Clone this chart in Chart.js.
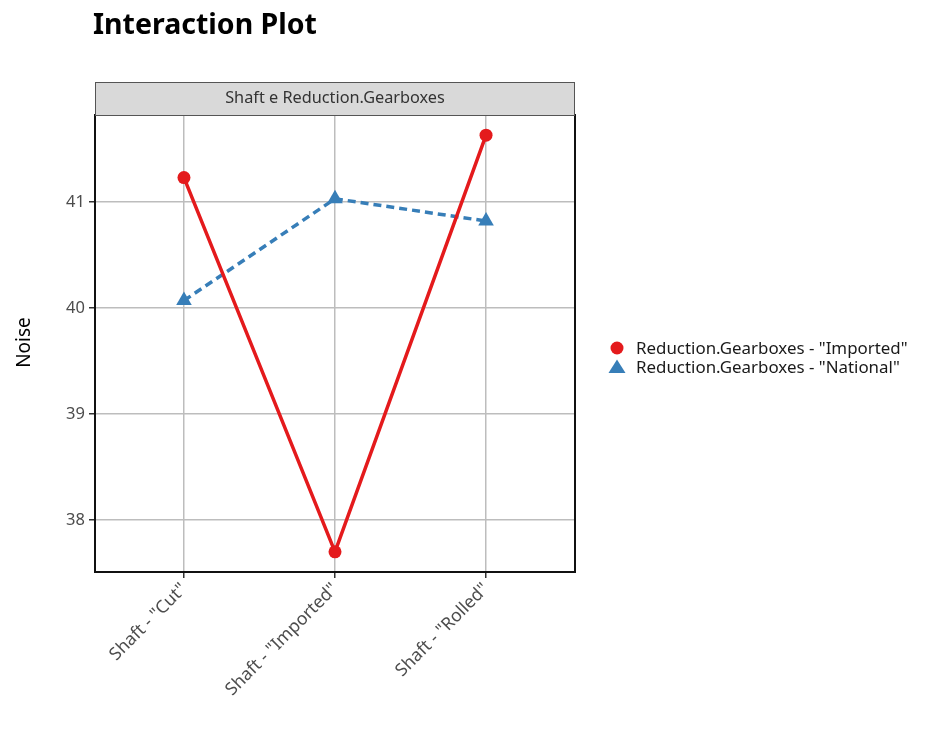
<!DOCTYPE html>
<html><head><meta charset="utf-8">
<script src="https://cdn.jsdelivr.net/npm/chart.js@4/dist/chart.umd.min.js"></script>
<style>html,body{margin:0;padding:0;background:#fff}#wrap{width:931px;height:730px;position:relative}</style>
</head><body><div id="wrap"><canvas id="c" width="931" height="730"></canvas></div>
<script>
const categories = ['Shaft - "Cut"', 'Shaft - "Imported"', 'Shaft - "Rolled"'];
const seriesNames = ['Reduction.Gearboxes - "Imported"', 'Reduction.Gearboxes - "National"'];
const importedValues = [41.23, 37.70, 41.63];
const nationalValues = [40.07, 41.03, 40.82];
const yTicks = [38, 39, 40, 41];
const chartTitle = 'Interaction Plot';
const stripLabel = 'Shaft e Reduction.Gearboxes';
const yTitle = 'Noise';

const FONT = '"Noto Sans", "Open Sans", sans-serif';
const RED = '#E41A1C', BLUE = '#377EB8';

const decor = {
  id: 'decor',
  afterDraw(chart) {
    const ctx = chart.ctx, a = chart.chartArea;
    ctx.save();
    // panel border
    ctx.strokeStyle = '#111'; ctx.lineWidth = 2;
    ctx.strokeRect(a.left, a.top, a.right - a.left, a.bottom - a.top);
    // strip
    const sh = 33;
    ctx.fillStyle = '#d9d9d9';
    ctx.fillRect(a.left, a.top - sh, a.right - a.left, sh);
    ctx.strokeStyle = '#555'; ctx.lineWidth = 1;
    ctx.strokeRect(a.left + 0.5, a.top - sh + 0.5, a.right - a.left - 1, sh);
    ctx.fillStyle = '#333'; ctx.font = '16.3px ' + FONT;
    ctx.textAlign = 'center'; ctx.textBaseline = 'middle';
    ctx.fillText(stripLabel, (a.left + a.right) / 2, a.top - sh / 2);
    // title
    ctx.fillStyle = '#000'; ctx.font = 'bold 28.5px ' + FONT;
    ctx.textAlign = 'left'; ctx.textBaseline = 'alphabetic';
    ctx.fillText(chartTitle, 93, 34);
    // y title
    ctx.save();
    ctx.translate(25, (a.top + a.bottom) / 2 - 1);
    ctx.rotate(-Math.PI / 2);
    ctx.font = '19px ' + FONT; ctx.textAlign = 'center'; ctx.textBaseline = 'middle';
    ctx.fillText(yTitle, 0, 0);
    ctx.restore();
    // legend
    const lx = 617, ly = [348, 367];
    ctx.fillStyle = RED;
    ctx.beginPath(); ctx.arc(lx, ly[0], 6.5, 0, Math.PI * 2); ctx.fill();
    ctx.fillStyle = BLUE;
    ctx.beginPath(); ctx.moveTo(lx, ly[1] - 7.5); ctx.lineTo(lx + 8.5, ly[1] + 6); ctx.lineTo(lx - 8.5, ly[1] + 6); ctx.closePath(); ctx.fill();
    ctx.fillStyle = '#1a1a1a'; ctx.font = '16.9px ' + FONT; ctx.textBaseline = 'middle';
    ctx.fillText(seriesNames[0], 636, ly[0] + 1);
    ctx.fillText(seriesNames[1], 636, ly[1] + 1);
    ctx.restore();
  }
};

new Chart(document.getElementById('c'), {
  type: 'line',
  data: {
    datasets: [
      { label: seriesNames[0], data: importedValues.map((v, i) => ({ x: i + 1, y: v })),
        borderColor: RED, backgroundColor: RED, borderWidth: 3.5, pointStyle: 'circle',
        pointRadius: 6.5, pointBorderWidth: 0, tension: 0 },
      { label: seriesNames[1], data: nationalValues.map((v, i) => ({ x: i + 1, y: v })),
        borderColor: BLUE, backgroundColor: BLUE, borderWidth: 3.5, borderDash: [8, 5],
        pointStyle: 'triangle', pointRadius: 9, pointBorderWidth: 0, tension: 0 }
    ]
  },
  options: {
    responsive: false, animation: false,
    layout: { padding: { left: 0, right: 356, top: 115, bottom: 0 } },
    plugins: { legend: { display: false }, tooltip: { enabled: false } },
    scales: {
      x: {
        type: 'linear', min: 0.411, max: 3.589,
        afterBuildTicks: s => { s.ticks = categories.map((c, i) => ({ value: i + 1 })); },
        afterFit: s => { s.height = 158; },
        ticks: { callback: v => categories[v - 1], autoSkip: false, minRotation: 45, maxRotation: 45,
          color: '#4d4d4d', font: { family: FONT, size: 17.6 }, padding: 1 },
        grid: { color: '#bdbdbd', lineWidth: 1.5, tickLength: 6, tickColor: '#333', drawOnChartArea: true },
        border: { display: false }
      },
      y: {
        min: 37.51, max: 41.82,
        afterBuildTicks: s => { s.ticks = yTicks.map(v => ({ value: v })); },
        afterFit: s => { s.width = 95; },
        ticks: { color: '#4d4d4d', font: { family: FONT, size: 16.5 }, padding: 4 },
        grid: { color: '#bdbdbd', lineWidth: 1.5, tickLength: 6, tickColor: '#333', drawOnChartArea: true },
        border: { display: false }
      }
    }
  },
  plugins: [decor]
});
</script></body></html>
